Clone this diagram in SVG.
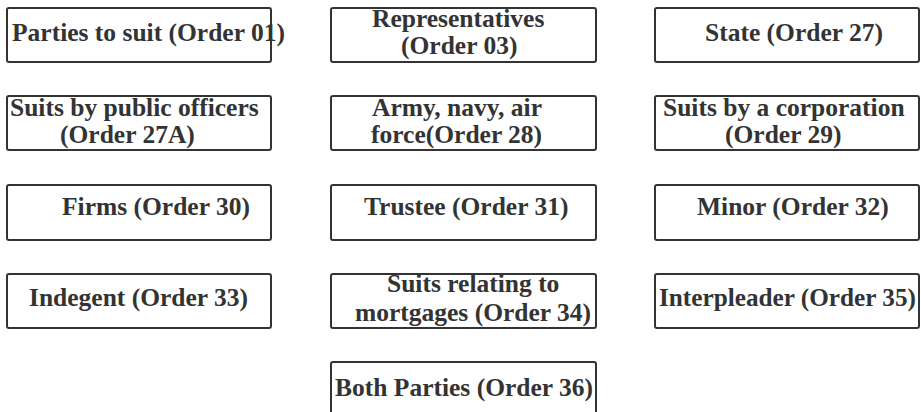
<svg xmlns="http://www.w3.org/2000/svg" width="921" height="412" viewBox="0 0 921 412">
<style>
.box{fill:#fff;stroke:#333;stroke-width:2}
.t{font-family:"Liberation Serif","Times New Roman",serif;font-weight:bold;font-size:25.5px;fill:#333}
</style>
<rect width="921" height="412" fill="#fff"/>
<g id="n1"><rect class="box" x="7" y="8" width="264" height="54" rx="2"/><text class="t" x="12" y="41">Parties to suit (Order 01)</text></g>
<g id="n2"><rect class="box" x="331" y="8" width="265" height="54" rx="2"/><text class="t" x="372" y="27">Representatives</text><text class="t" x="401" y="54">(Order 03)</text></g>
<g id="n3"><rect class="box" x="655" y="8" width="264" height="54" rx="2"/><text class="t" x="705" y="41">State (Order 27)</text></g>
<g id="n4"><rect class="box" x="7" y="96" width="264" height="54" rx="2"/><text class="t" x="10" y="116">Suits by public officers</text><text class="t" x="60" y="143">(Order 27A)</text></g>
<g id="n5"><rect class="box" x="331" y="96" width="265" height="54" rx="2"/><text class="t" x="372" y="116">Army, navy, air</text><text class="t" x="371" y="143">force(Order 28)</text></g>
<g id="n6"><rect class="box" x="655" y="96" width="264" height="54" rx="2"/><text class="t" x="663" y="116">Suits by a corporation</text><text class="t" x="725" y="143">(Order 29)</text></g>
<g id="n7"><rect class="box" x="7" y="185" width="264" height="55" rx="2"/><text class="t" x="62" y="215">Firms (Order 30)</text></g>
<g id="n8"><rect class="box" x="331" y="185" width="265" height="55" rx="2"/><text class="t" x="364" y="215">Trustee (Order 31)</text></g>
<g id="n9"><rect class="box" x="655" y="185" width="264" height="55" rx="2"/><text class="t" x="697" y="215">Minor (Order 32)</text></g>
<g id="n10"><rect class="box" x="7" y="274" width="264" height="54" rx="2"/><text class="t" x="29" y="306">Indegent (Order 33)</text></g>
<g id="n11"><rect class="box" x="331" y="274" width="265" height="54" rx="2"/><text class="t" x="387" y="292">Suits relating to</text><text class="t" x="355" y="321">mortgages (Order 34)</text></g>
<g id="n12"><rect class="box" x="655" y="274" width="264" height="54" rx="2"/><text class="t" x="659" y="306" textLength="257" lengthAdjust="spacingAndGlyphs">Interpleader (Order 35)</text></g>
<g id="n13"><rect class="box" x="331" y="362" width="265" height="54" rx="2"/><text class="t" x="335" y="396">Both Parties (Order 36)</text></g>
<g id="connectors"></g>
</svg>
